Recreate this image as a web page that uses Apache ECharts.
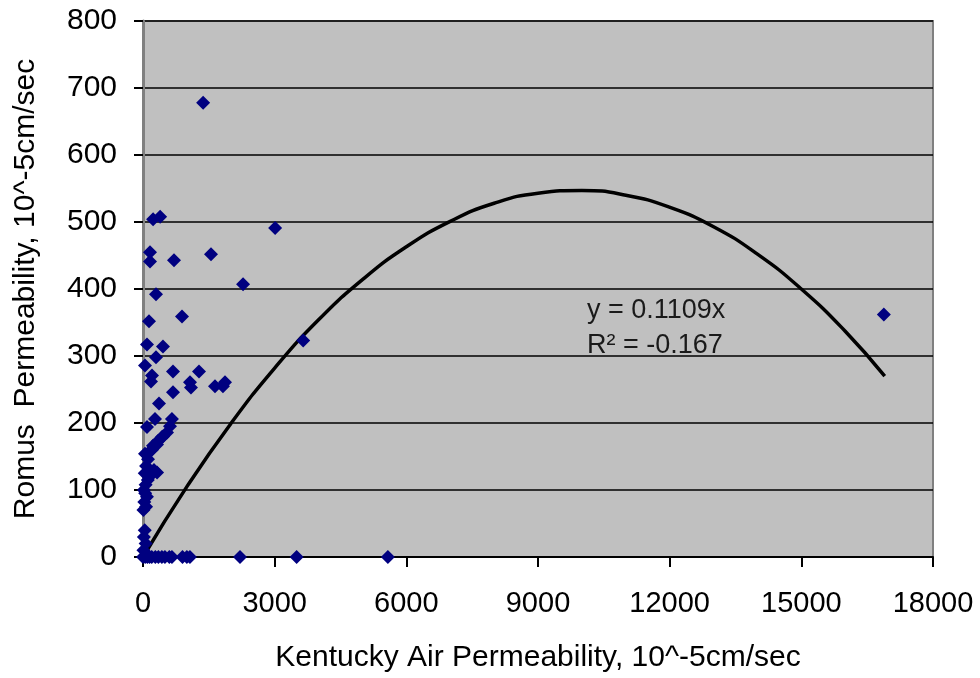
<!DOCTYPE html>
<html>
<head>
<meta charset="utf-8">
<script src="https://cdn.jsdelivr.net/npm/echarts@6/dist/echarts.min.js"></script>
<style>
  html, body { margin: 0; padding: 0; background: #ffffff; }
  #chart { width: 980px; height: 678px; }
</style>
</head>
<body>
<div id="chart"></div>
<script>
var chartDom = document.getElementById('chart');
var myChart = echarts.init(chartDom);

// measured points (Kentucky air, Romus)
var kentuckyX = [1370, 230, 390, 3010, 1550, 160, 160, 706, 2280, 296,
  137, 888, 91, 455, 3650, 16880, 296, 46, 205, 182,
  683, 1276, 1071, 1093, 1640, 1868, 1822, 683, 364, 273,
  91, 660, 615, 547, 455, 433, 342, 319, 228, 205,
  160, 46, 114, 70, 250, 320, 180, 40, 110, 60,
  20, 50, 90, 30, 70, 10, 40, 20, 60, 10,
  0, 50, 100, 150, 200, 280, 350, 430, 500, 600,
  660, 900, 1000, 1070, 2210, 3500, 5580];
var romusY = [678, 504, 508, 491, 452, 455, 441, 443, 407, 392,
  352, 359, 317, 314, 323, 362, 298, 286, 271, 262,
  277, 277, 261, 253, 255, 261, 255, 246, 229, 206,
  194, 206, 195, 186, 180, 179, 173, 168, 166, 160,
  158, 154, 146, 136, 130, 126, 122, 125, 115, 108,
  100, 95, 90, 82, 75, 70, 40, 30, 20, 10,
  0, 0, 0, 0, 0, 0, 0, 0, 0, 0,
  0, 0, 0, 0, 0, 0, 0];

// trendline
var trendX = [0, 1000, 2000, 3000, 4000, 5000, 6000, 7000, 8000, 9000,
  10000, 11000, 12000, 13000, 14000, 15000, 16000, 16900];
var trendY = [0, 105, 199, 282, 354, 414, 463, 501, 528, 543,
  547, 540, 522, 493, 452, 400, 337, 270];

var trendText = 'y = 0.1109x\nR\u00b2 = -0.167';

var scatterData = kentuckyX.map(function (x, i) { return [x, romusY[i]]; });
var trendData = trendX.map(function (x, i) { return [x, trendY[i]]; });

var fontFam = '"Liberation Sans", Arial, sans-serif';

var option = {
  animation: false,
  backgroundColor: '#ffffff',
  grid: {
    left: 143, right: 47, top: 21, bottom: 120,
    show: true,
    backgroundColor: '#c0c0c0',
    borderColor: '#808080',
    borderWidth: 2
  },
  xAxis: {
    type: 'value',
    min: 0, max: 18000, interval: 3000,
    name: 'Kentucky Air Permeability, 10^-5cm/sec',
    nameLocation: 'middle',
    nameGap: 86,
    nameTextStyle: { color: '#000', fontSize: 30, fontFamily: fontFam },
    axisLine: { show: true, lineStyle: { color: '#000', width: 2 } },
    axisTick: { show: true, inside: false, length: 10, lineStyle: { color: '#000', width: 2 } },
    axisLabel: {
      color: '#000', fontSize: 29, fontFamily: fontFam, margin: 32,
      formatter: function (v) { return String(v); }
    },
    splitLine: { show: false }
  },
  yAxis: {
    type: 'value',
    min: 0, max: 800, interval: 100,
    name: 'Romus  Permeability, 10^-5cm/sec',
    nameLocation: 'middle',
    nameGap: 102,
    nameRotate: 90,
    nameTextStyle: { color: '#000', fontSize: 30, fontFamily: fontFam },
    axisLine: { show: true, lineStyle: { color: '#808080', width: 3 } },
    axisTick: { show: true, inside: false, length: 9, lineStyle: { color: '#000', width: 2 } },
    axisLabel: { color: '#000', fontSize: 30, fontFamily: fontFam, margin: 26 },
    splitLine: { show: true, lineStyle: { color: '#000', width: 1.5 } }
  },
  series: [
    {
      type: 'line',
      data: trendData,
      smooth: 0.5,
      showSymbol: false,
      lineStyle: { color: '#000', width: 3.5 },
      z: 2,
      silent: true
    },
    {
      type: 'scatter',
      data: scatterData,
      symbol: 'diamond',
      symbolSize: 14,
      itemStyle: { color: '#000080', opacity: 1 },
      z: 3
    }
  ],
  graphic: [
    {
      type: 'text',
      left: 587,
      top: 293,
      style: {
        text: trendText,
        fill: '#1a1a1a',
        fontSize: 27,
        lineHeight: 35,
        fontFamily: fontFam
      }
    }
  ]
};

myChart.setOption(option);
</script>
</body>
</html>
